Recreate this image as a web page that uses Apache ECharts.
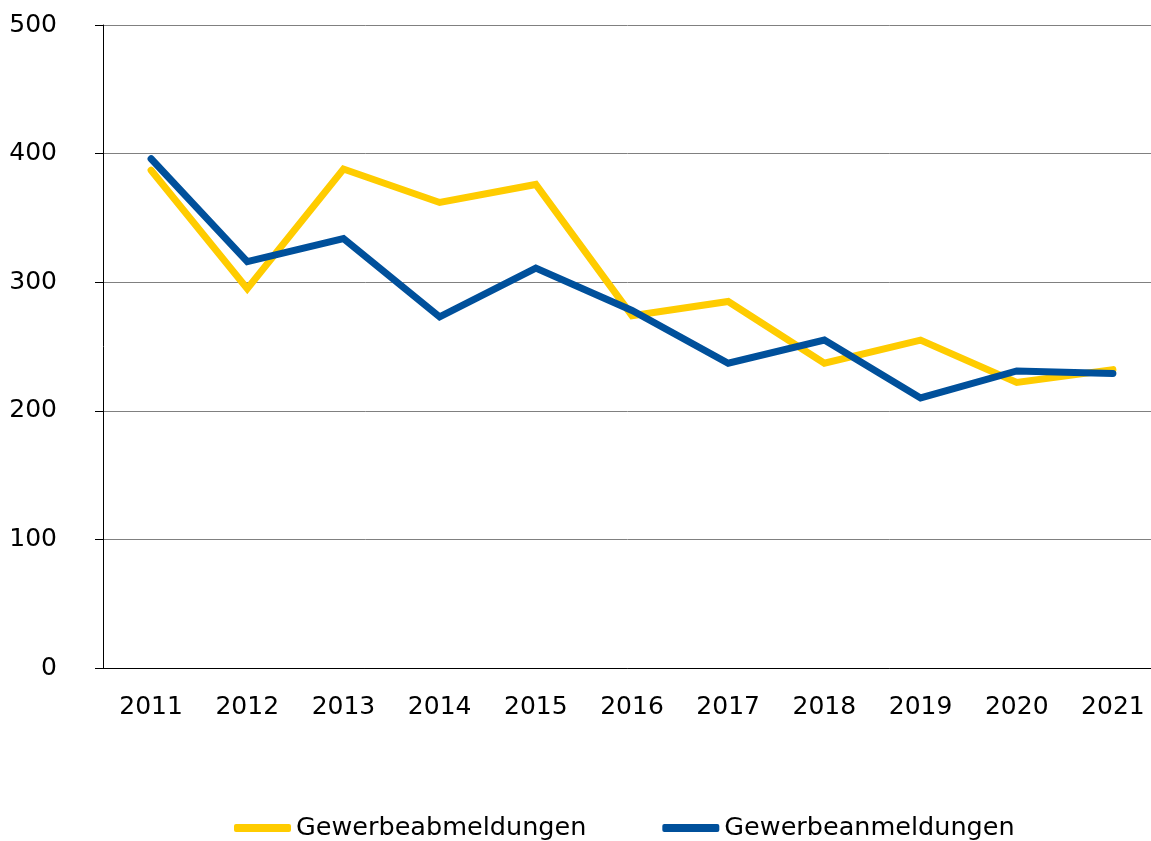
<!DOCTYPE html>
<html lang="de">
<head>
    <meta charset="UTF-8">
    <title>Gewerbean- und -abmeldungen</title>
    <script src="https://cdn.jsdelivr.net/npm/echarts@6/dist/echarts.min.js"></script>
    <style>
        html, body { margin: 0; padding: 0; background: #ffffff; }
        #chart { width: 1151px; height: 841px; }
    </style>
</head>
<body>
<div id="chart"></div>
<script>
    const years = ['2011', '2012', '2013', '2014', '2015', '2016', '2017', '2018', '2019', '2020', '2021'];
    const abmeldungen = [387, 295, 388, 362, 376, 274, 285, 237, 255, 222, 232];
    const anmeldungen = [396, 316, 334, 273, 311, 278, 237, 255, 210, 231, 229];
    const yTicks = [0, 100, 200, 300, 400, 500];

    const chart = echarts.init(document.getElementById('chart'));
    const font = 'DejaVu Sans';

    chart.setOption({
        animation: false,
        grid: {
            left: 103,
            top: 25,
            bottom: 173,
            width: 1058,
            outerBoundsMode: 'none'
        },
        legend: {
            top: 810,
            left: 229,
            icon: 'roundRect',
            itemWidth: 57,
            itemHeight: 8,
            itemGap: 76,
            itemTextGap: 3,
            textStyle: {
                fontFamily: font,
                fontSize: 25.5,
                color: '#000'
            },
            data: ['Gewerbeabmeldungen', 'Gewerbeanmeldungen']
        },
        xAxis: {
            type: 'category',
            data: years,
            boundaryGap: true,
            axisLine: { lineStyle: { color: '#000', width: 1 } },
            axisTick: { show: false },
            axisLabel: {
                fontFamily: font,
                fontSize: 25,
                color: '#000',
                margin: 27
            }
        },
        yAxis: {
            type: 'value',
            min: yTicks[0],
            max: yTicks[yTicks.length - 1],
            interval: 100,
            axisLine: { show: true, lineStyle: { color: '#000', width: 1 } },
            axisTick: { show: true, length: 8, lineStyle: { color: '#000' } },
            axisLabel: {
                fontFamily: font,
                fontSize: 25,
                color: '#000',
                margin: 46
            },
            splitLine: { lineStyle: { color: '#808080', width: 1 } }
        },
        series: [
            {
                name: 'Gewerbeabmeldungen',
                type: 'line',
                data: abmeldungen,
                symbol: 'none',
                lineStyle: { color: '#ffcc00', width: 7, cap: 'round', join: 'miter' },
                itemStyle: { color: '#ffcc00' }
            },
            {
                name: 'Gewerbeanmeldungen',
                type: 'line',
                data: anmeldungen,
                symbol: 'none',
                lineStyle: { color: '#00509b', width: 7, cap: 'round', join: 'miter' },
                itemStyle: { color: '#00509b' }
            }
        ]
    });
</script>
</body>
</html>
